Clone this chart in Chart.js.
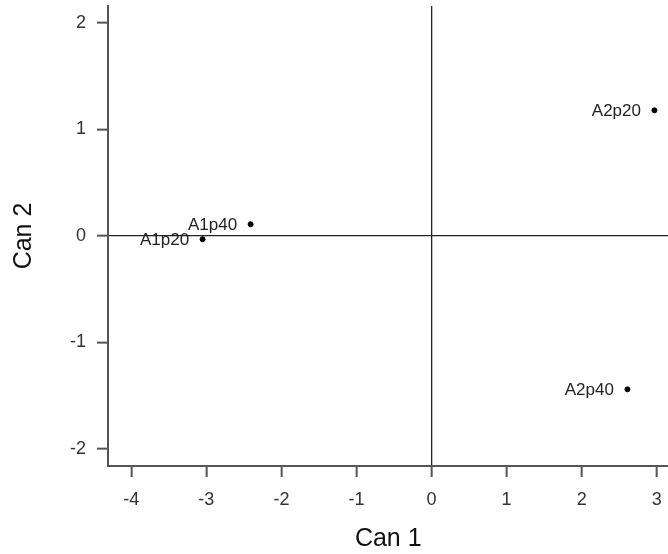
<!DOCTYPE html>
<html>
<head>
<meta charset="utf-8">
<script src="https://cdn.jsdelivr.net/npm/chart.js@4"></script>
<style>
  html, body { margin: 0; padding: 0; background: #fff; }
  #wrap { width: 668px; height: 554px; overflow: hidden; }
  #c { display: block; }
</style>
</head>
<body>
<div id="wrap"><canvas id="c" width="672" height="554"></canvas></div>
<script>
const pointLabels = ['A1p20', 'A1p40', 'A2p20', 'A2p40'];
const can1 = [-3.05, -2.41, 2.97, 2.61];
const can2 = [-0.03, 0.11, 1.18, -1.44];
const xTicks = [-4, -3, -2, -1, 0, 1, 2, 3];
const yTicks = [-2, -1, 0, 1, 2];

const FONT = "'Liberation Sans', Arial, sans-serif";

const labelPlugin = {
  id: 'pointLabels',
  afterDatasetsDraw(chart) {
    const ctx = chart.ctx;
    const meta = chart.getDatasetMeta(0);
    ctx.save();
    ctx.font = "17px " + FONT;
    ctx.fillStyle = '#222';
    ctx.textAlign = 'right';
    ctx.textBaseline = 'middle';
    meta.data.forEach((pt, i) => {
      ctx.fillText(pointLabels[i], pt.x - 13.5, pt.y + 1);
    });
    ctx.restore();
  }
};

function zeroPad(scale) {
  scale.paddingTop = 0;
  scale.paddingBottom = 0;
  scale.paddingLeft = 0;
  scale.paddingRight = 0;
}

new Chart(document.getElementById('c'), {
  type: 'scatter',
  data: {
    datasets: [{
      data: can1.map((x, i) => ({ x: x, y: can2[i] })),
      backgroundColor: '#000',
      borderColor: '#000',
      pointRadius: 2.5,
      pointHoverRadius: 2.5
    }]
  },
  options: {
    responsive: false,
    devicePixelRatio: 1,
    animation: false,
    layout: { padding: { top: 6, right: 0, left: 0, bottom: 0 } },
    plugins: { legend: { display: false }, tooltip: { enabled: false } },
    scales: {
      x: {
        type: 'linear',
        min: -4.31,
        max: 3.157,
        afterFit(scale) { scale.height = 88; zeroPad(scale); },
        afterBuildTicks(scale) { scale.ticks = xTicks.map(v => ({ value: v })); },
        border: { display: true, color: '#555', width: 2 },
        grid: {
          color: (c) => (c.tick && c.tick.value === 0 ? '#222' : 'rgba(0,0,0,0)'),
          lineWidth: 1.3,
          tickColor: '#555',
          tickLength: 11,
          tickWidth: 2
        },
        ticks: {
          includeBounds: false,
          autoSkip: false,
          maxRotation: 0,
          padding: 12,
          color: '#333',
          font: { family: FONT, size: 18 },
          callback: (v) => String(v)
        },
        title: {
          display: true,
          text: 'Can 1',
          color: '#111',
          font: { family: FONT, size: 25 },
          padding: { top: 0, bottom: 0 }
        }
      },
      y: {
        type: 'linear',
        min: -2.16,
        max: 2.16,
        afterFit(scale) { scale.width = 108; zeroPad(scale); },
        afterBuildTicks(scale) { scale.ticks = yTicks.map(v => ({ value: v })); },
        border: { display: true, color: '#555', width: 2 },
        grid: {
          color: (c) => (c.tick && c.tick.value === 0 ? '#222' : 'rgba(0,0,0,0)'),
          lineWidth: 1.3,
          tickColor: '#555',
          tickLength: 11,
          tickWidth: 2
        },
        ticks: {
          includeBounds: false,
          autoSkip: false,
          padding: 11,
          color: '#333',
          font: { family: FONT, size: 18 },
          callback: (v) => String(v)
        },
        title: {
          display: true,
          text: 'Can 2',
          color: '#111',
          font: { family: FONT, size: 25 },
          padding: { top: 9, bottom: 0 }
        }
      }
    }
  },
  plugins: [labelPlugin]
});
</script>
</body>
</html>
